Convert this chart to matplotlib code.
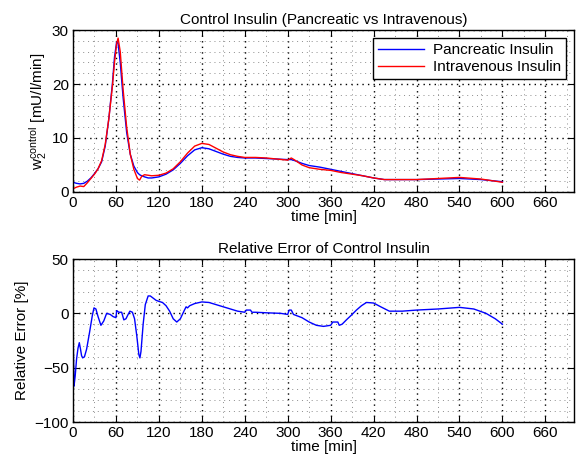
import matplotlib
matplotlib.use("Agg")
import matplotlib.pyplot as plt
from matplotlib.ticker import MultipleLocator

plt.rcParams['font.family'] = ['Liberation Sans', 'DejaVu Sans']
plt.rcParams['mathtext.fontset'] = 'custom'
plt.rcParams['mathtext.rm'] = 'Liberation Sans'
plt.rcParams['mathtext.it'] = 'Liberation Sans'

# ---- Top panel data ----
t_top = [0, 5, 10, 15, 20, 25, 30, 35, 40, 45, 50, 55, 58, 61, 63, 66, 70, 75, 80, 85,
         90, 93, 96, 100, 105, 110, 120, 130, 140, 150, 160, 170, 180, 190, 200, 210,
         220, 230, 240, 255, 270, 285, 300, 305, 310, 320, 330, 345, 360, 375, 390,
         405, 420, 435, 450, 480, 510, 540, 570, 600]
pancreatic = [1.8, 1.6, 1.5, 1.6, 2.0, 2.6, 3.4, 4.3, 5.6, 8.5, 13.5, 20, 25, 27.8, 27.5,
              24, 17.5, 11, 7, 4.8, 3.6, 3.2, 3.0, 2.8, 2.6, 2.6, 2.8, 3.3, 4.1, 5.3, 6.7,
              7.8, 8.2, 8.0, 7.5, 7.0, 6.6, 6.4, 6.3, 6.3, 6.2, 6.1, 6.0, 6.0, 5.8, 5.3,
              4.9, 4.6, 4.2, 3.8, 3.4, 3.0, 2.6, 2.3, 2.3, 2.3, 2.4, 2.5, 2.3, 1.9]
intravenous = [0.6, 0.9, 1.1, 1.0, 1.7, 2.5, 3.3, 4.3, 5.8, 8.8, 13.5, 19.5, 24, 27.5, 28.5,
               26, 19, 12, 7, 4.2, 2.5, 2.2, 2.9, 3.2, 3.1, 3.0, 3.1, 3.5, 4.3, 5.6, 7.2,
               8.5, 9.0, 8.8, 8.1, 7.4, 6.9, 6.6, 6.4, 6.4, 6.3, 6.1, 5.9, 6.3, 5.9, 5.0,
               4.5, 4.2, 4.0, 3.6, 3.3, 3.0, 2.6, 2.3, 2.3, 2.3, 2.5, 2.7, 2.4, 1.8]

# ---- Bottom panel data ----
t_err = [0.3, 1.4, 3, 5, 7, 8.8, 10.5, 12, 13.5, 16, 19, 23, 27, 29.3, 32, 35, 39, 43, 47,
         52, 56, 60, 61, 64, 68, 71, 74, 77, 79.5, 83, 86, 89, 92, 93.5, 95, 98, 101, 105,
         108, 112, 116, 120, 125, 130, 135, 140, 145, 150, 155, 158, 160, 163, 170, 180,
         190, 200, 210, 220, 230, 240, 242, 248, 250, 255, 270, 290, 300, 302, 305, 308,
         312, 320, 330, 340, 350, 360, 363, 365, 370, 372, 376, 382, 390, 396, 403, 410,
         420, 430, 442, 460, 480, 510, 540, 560, 577, 590, 600]
rel_error = [-24, -67, -58, -42, -32, -27, -33, -39, -41, -40, -33, -18, -2, 5, 4, -3, -11,
             -7, 0, -1, -3, -4, 2.5, 1, 1, -6, -5, -1, 2, 1, -5, -20, -38, -41, -35, -10,
             8, 16, 16, 14, 12, 11, 10, 7, 2, -5, -8, -5, 2, 6, 5, 7, 9, 10.5, 10, 8, 6, 4,
             2, 1, 3, 3, 1, 1, 0.5, 0, -1, 3, 3, -1, -2, -4, -8, -11, -12, -11, -8, -8, -8,
             -11, -10, -6, -1, 3, 7, 10, 9.5, 6, 2, 2, 3, 4, 5.5, 4, 0, -5, -10]

xticks = [0, 60, 120, 180, 240, 300, 360, 420, 480, 540, 600, 660]

FS = 11

fig = plt.figure(figsize=(5.78, 4.66), dpi=100)
ax1 = fig.add_axes([0.1263, 0.588, 0.8668, 0.3476])
ax2 = fig.add_axes([0.1263, 0.0944, 0.8668, 0.3498])

ax1.plot(t_top, pancreatic, color=(0, 0, 1), lw=1.0, label='Pancreatic Insulin')
ax1.plot(t_top, intravenous, color=(1, 0, 0), lw=1.0, label='Intravenous Insulin')
ax2.plot(t_err, rel_error, color=(0, 0, 1), lw=1.0)

ax1.set_ylim(0, 30)
ax1.yaxis.set_major_locator(MultipleLocator(10))
ax1.yaxis.set_minor_locator(MultipleLocator(2))
ax2.set_ylim(-100, 50)
ax2.yaxis.set_major_locator(MultipleLocator(50))
ax2.yaxis.set_minor_locator(MultipleLocator(10))

for ax in (ax1, ax2):
    ax.set_xlim(0, 700)
    ax.set_xticks(xticks)
    ax.xaxis.set_minor_locator(MultipleLocator(30))
    ax.tick_params(which='major', direction='in', top=True, right=True, length=4,
                   width=0.8, labelsize=FS, pad=3)
    ax.tick_params(which='minor', direction='in', top=False, right=False, length=0)
    ax.grid(True, which='major', color='black', linestyle=(0, (1, 3)), linewidth=1.0)
    ax.grid(True, which='minor', color='0.55', linestyle=(0, (1, 4)), linewidth=0.7)
    ax.set_axisbelow(True)
    for s in ax.spines.values():
        s.set_linewidth(1.0)
    ax.set_xlabel('time [min]', fontsize=FS, labelpad=0)

ax1.set_title('Control Insulin (Pancreatic vs Intravenous)', fontsize=FS, pad=4)
ax2.set_title('Relative Error of Control Insulin', fontsize=FS, pad=4)
ax1.set_ylabel(r'$\mathrm{w}_2^{\mathrm{control}}$ [mU/l/min]', fontsize=FS, labelpad=2)
ax2.set_ylabel('Relative Error [%]', fontsize=FS, labelpad=4)

leg = ax1.legend(loc='upper right', fontsize=FS, frameon=True, fancybox=False,
                 edgecolor='black', framealpha=1, borderpad=0.3, handlelength=3.0,
                 labelspacing=0.2, borderaxespad=0.55, handletextpad=0.6)
leg.get_frame().set_linewidth(1.0)

fig.savefig('out.png', dpi=100)
